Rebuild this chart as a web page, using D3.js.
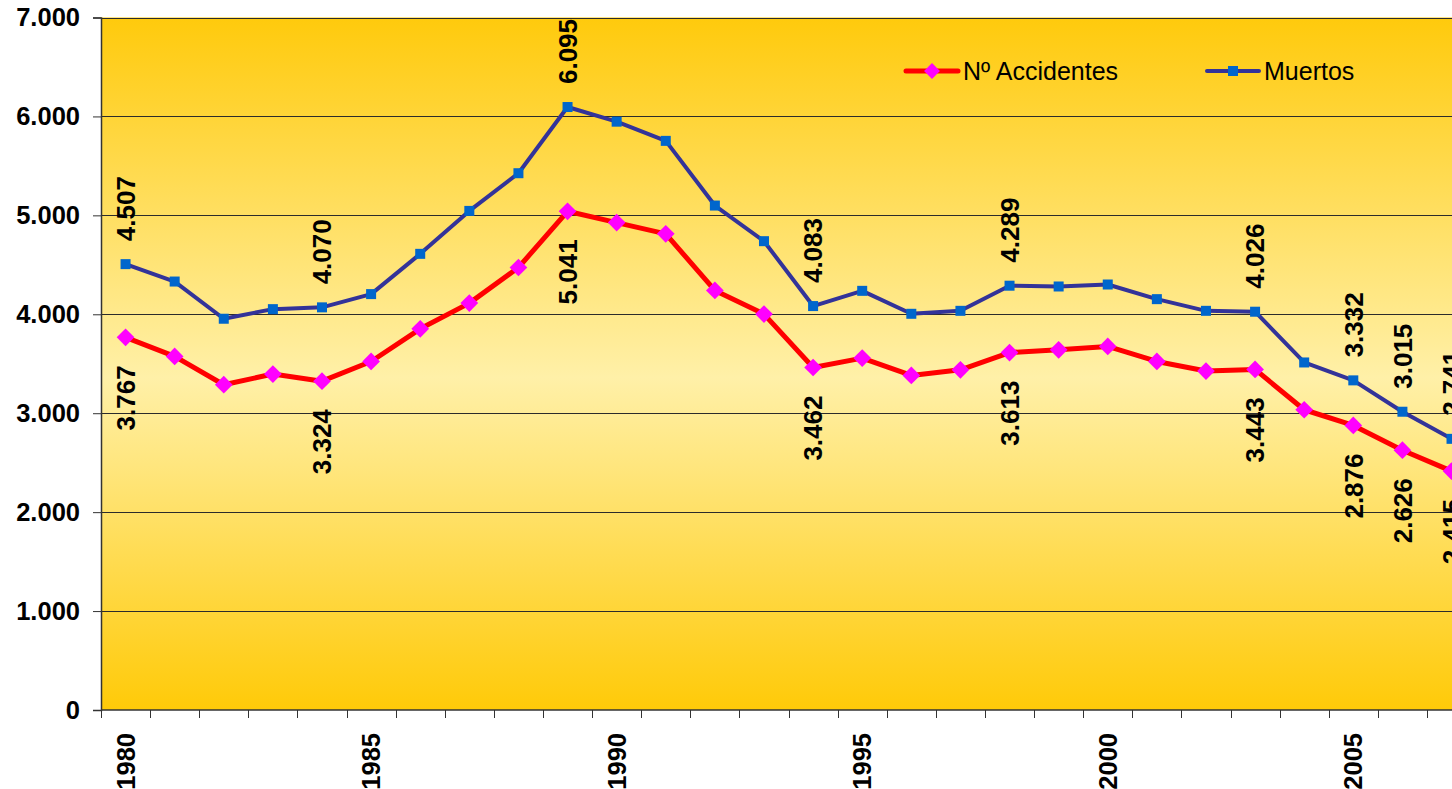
<!DOCTYPE html>
<html>
<head>
<meta charset="utf-8">
<script src="https://cdn.jsdelivr.net/npm/d3@7"></script>
<style>
  body { margin: 0; background: #fff; }
  svg { display: block; font-family: "Liberation Sans", Arial, sans-serif; }
</style>
</head>
<body>
<div id="chart"></div>
<script>
var margin = {left:101, top:17.5, right:0, bottom:79},
    width = 1452,
    height = 789,
    plotH = height - margin.top - margin.bottom,
    step = 49.11;

// years shown on the x axis
var years = d3.range(1980, 2008);
var yearLabels = [1980, 1985, 1990, 1995, 2000, 2005];
var yTicks = [0, 1000, 2000, 3000, 4000, 5000, 6000, 7000];

// Nº Accidentes
var accidentes = [3767, 3574, 3288, 3396, 3324, 3523, 3853, 4113, 4473, 5041,
                  4927, 4813, 4241, 4002, 3462, 3557, 3382, 3439, 3613, 3641,
                  3675, 3523, 3426, 3443, 3035, 2876, 2626, 2415];
// Muertos
var muertos = [4507, 4331, 3955, 4052, 4070, 4204, 4611, 5045, 5426, 6095,
               5947, 5753, 5099, 4739, 4083, 4237, 4005, 4035, 4289, 4281,
               4301, 4153, 4035, 4026, 3513, 3332, 3015, 2741];

// years that carry a value label
var labelYears = [1980, 1984, 1989, 1994, 1998, 2003, 2005, 2006, 2007];

var fmt = d3.formatLocale({decimal: ",", thousands: ".", grouping: [3], currency: ["", ""]}).format(",d");

var x = d3.scaleBand()
    .domain(years)
    .range([margin.left, margin.left + years.length * step]);

var y = d3.scaleLinear()
    .domain([0, 7000])
    .range([margin.top + plotH, margin.top]);

var svg = d3.select("#chart").append("svg")
    .attr("width", width)
    .attr("height", height);

// background gradient gold -> light yellow -> gold
var grad = svg.append("defs").append("linearGradient")
    .attr("id", "bg")
    .attr("x1", 0).attr("y1", 0).attr("x2", 0).attr("y2", 1);
grad.append("stop").attr("offset", "0%").attr("stop-color", "#FFCA0C");
grad.append("stop").attr("offset", "52%").attr("stop-color", "#FFF0A8");
grad.append("stop").attr("offset", "100%").attr("stop-color", "#FFCA08");

svg.append("rect")
    .attr("x", x.range()[0])
    .attr("y", y(7000))
    .attr("width", x.range()[1] - x.range()[0])
    .attr("height", y(0) - y(7000))
    .style("fill", "url(#bg)");

// gridlines
svg.append("g")
    .selectAll("line")
    .data(yTicks.filter(function(d) { return d > 0; }))
    .enter().append("line")
    .attr("x1", x.range()[0])
    .attr("x2", x.range()[1])
    .attr("y1", function(d) { return Math.round(y(d)) + 0.5; })
    .attr("y2", function(d) { return Math.round(y(d)) + 0.5; })
    .style("stroke", "#2b2b2b")
    .style("stroke-width", 1);

// y axis
var yAxis = svg.append("g")
    .attr("transform", "translate(" + margin.left + ",0)")
    .call(d3.axisLeft(y).tickValues(yTicks).tickSize(8).tickPadding(13).tickFormat(fmt));
yAxis.select(".domain").style("stroke", "#333").style("stroke-width", 1.5);
yAxis.selectAll(".tick line").style("stroke", "#333");
yAxis.selectAll("text")
    .style("font-size", "25.5px")
    .style("font-weight", "bold")
    .style("fill", "#000");

// x axis: ticks sit on band edges
var xAxis = svg.append("g")
    .attr("transform", "translate(0," + y(0) + ")");
xAxis.append("line")
    .attr("x1", x.range()[0]).attr("x2", x.range()[1])
    .style("stroke", "#333").style("stroke-width", 1.5);
xAxis.selectAll("line.tick")
    .data(years)
    .enter().append("line")
    .attr("class", "tick")
    .attr("x1", function(d) { return Math.round(x(d)) + 0.5; })
    .attr("x2", function(d) { return Math.round(x(d)) + 0.5; })
    .attr("y1", 0).attr("y2", 8)
    .style("stroke", "#333");
xAxis.selectAll("text")
    .data(yearLabels)
    .enter().append("text")
    .attr("transform", function(d) {
        return "translate(" + (x(d) + x.bandwidth() / 2) + ",23) rotate(-90)";
    })
    .attr("dy", "0.36em")
    .attr("text-anchor", "end")
    .style("font-size", "25.5px")
    .style("font-weight", "bold")
    .text(function(d) { return d; });

var cx = function(d, i) { return x(years[i]) + x.bandwidth() / 2; };

var line = d3.line()
    .x(function(d, i) { return cx(d, i); })
    .y(function(d) { return y(d); });

// Muertos
svg.append("path")
    .datum(muertos)
    .attr("d", line)
    .style("fill", "none")
    .style("stroke", "#333399")
    .style("stroke-width", 4)
    .style("stroke-linejoin", "round");

svg.selectAll("rect.muertos")
    .data(muertos)
    .enter().append("rect")
    .attr("class", "muertos")
    .attr("x", function(d, i) { return cx(d, i) - 5; })
    .attr("y", function(d) { return y(d) - 5; })
    .attr("width", 10)
    .attr("height", 10)
    .style("fill", "#0066CC");

// Nº Accidentes
svg.append("path")
    .datum(accidentes)
    .attr("d", line)
    .style("fill", "none")
    .style("stroke", "#FF0000")
    .style("stroke-width", 5)
    .style("stroke-linejoin", "round");

var diamond = d3.symbol().type(d3.symbolDiamond2).size(200);

svg.selectAll("path.acc")
    .data(accidentes)
    .enter().append("path")
    .attr("class", "acc")
    .attr("transform", function(d, i) { return "translate(" + cx(d, i) + "," + y(d) + ")"; })
    .attr("d", diamond)
    .style("fill", "#FF00FF");

// value labels, rotated
var picked = function(d, i) { return labelYears.indexOf(years[i]) >= 0; };

svg.selectAll("text.lblM")
    .data(muertos)
    .enter().filter(picked).append("text")
    .attr("class", "lblM")
    .attr("transform", function(d) {
        var j = muertos.indexOf(d);
        return "translate(" + cx(d, j) + "," + (y(d) - 23) + ") rotate(-90)";
    })
    .attr("dy", "0.36em")
    .attr("text-anchor", "start")
    .style("font-size", "26px")
    .style("font-weight", "bold")
    .text(function(d) { return fmt(d); });

svg.selectAll("text.lblA")
    .data(accidentes)
    .enter().filter(picked).append("text")
    .attr("class", "lblA")
    .attr("transform", function(d) {
        var j = accidentes.indexOf(d);
        return "translate(" + cx(d, j) + "," + (y(d) + 28) + ") rotate(-90)";
    })
    .attr("dy", "0.36em")
    .attr("text-anchor", "end")
    .style("font-size", "26px")
    .style("font-weight", "bold")
    .text(function(d) { return fmt(d); });

// legend
var legend = svg.append("g");
var legItems = [
    {name: "Nº Accidentes", x: 906, stroke: "#FF0000", w: 5},
    {name: "Muertos", x: 1207, stroke: "#333399", w: 4}
];
var leg = legend.selectAll("g")
    .data(legItems)
    .enter().append("g")
    .attr("transform", function(d) { return "translate(" + d.x + ",71)"; });
leg.append("line")
    .attr("x1", 0).attr("x2", 52)
    .style("stroke", function(d) { return d.stroke; })
    .style("stroke-width", function(d) { return d.w; })
    .style("stroke-linecap", "round");
leg.filter(function(d, i) { return i == 0; }).append("path")
    .attr("transform", "translate(26,0)")
    .attr("d", d3.symbol().type(d3.symbolDiamond2).size(160))
    .style("fill", "#FF00FF");
leg.filter(function(d, i) { return i == 1; }).append("rect")
    .attr("x", 21).attr("y", -5).attr("width", 10).attr("height", 10)
    .style("fill", "#0066CC");
leg.append("text")
    .attr("x", 57)
    .attr("dy", "0.36em")
    .style("font-size", "25px")
    .text(function(d) { return d.name; });
</script>
</body>
</html>
